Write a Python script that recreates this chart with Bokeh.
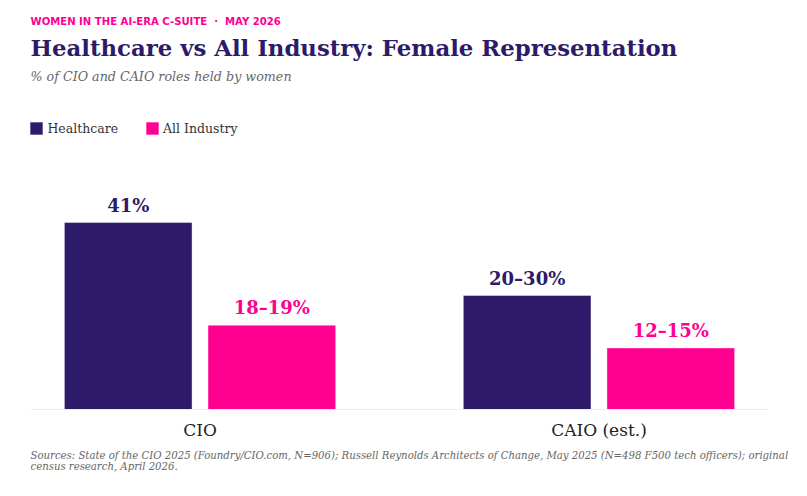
from bokeh.plotting import figure
from bokeh.models import (ColumnDataSource, Range1d, FixedTicker, Title, Legend, LegendItem)
from bokeh.transform import dodge
from bokeh.core.properties import value
from bokeh.embed import file_html
from bokeh.resources import INLINE

categories = ["CIO", "CAIO (est.)"]
healthcare_vals = [41, 25]
industry_vals = [18.5, 13.5]
healthcare_labels = ["41%", "20\u201330%"]
industry_labels = ["18\u201319%", "12\u201315%"]

PURPLE = "#2D1B69"
PINK = "#FF0090"
SERIF = "DejaVu Serif"

xs = list(range(len(categories)))
src = ColumnDataSource(dict(x=xs, hc=healthcare_vals, ind=industry_vals,
                            hcl=healthcare_labels, indl=industry_labels))

p = figure(width=798, height=486, output_backend="svg", toolbar_location=None,
           x_range=Range1d(-0.425, 1.425), y_range=Range1d(0, 70.4),
           min_border_left=30, min_border_right=30, min_border_top=88,
           min_border_bottom=77, tools="")
p.outline_line_color = None
p.background_fill_color = "white"
p.border_fill_color = "white"
p.xgrid.visible = False
p.ygrid.visible = False
p.yaxis.visible = False

r_hc = p.vbar(x=dodge("x", -0.18, range=p.x_range), top="hc", width=0.32, source=src,
              fill_color=PURPLE, line_color="#FFFFFF", line_alpha=0.4, line_width=1)
r_ind = p.vbar(x=dodge("x", 0.18, range=p.x_range), top="ind", width=0.32, source=src,
               fill_color=PINK, line_color="#FFFFFF", line_alpha=0.4, line_width=1)

p.text(x=dodge("x", -0.18, range=p.x_range), y="hc", text="hcl", source=src,
       text_align="center", text_baseline="bottom", y_offset=-7,
       text_font=value(SERIF), text_font_style="bold", text_font_size="18px",
       text_color=PURPLE)
p.text(x=dodge("x", 0.18, range=p.x_range), y="ind", text="indl", source=src,
       text_align="center", text_baseline="bottom", y_offset=-7,
       text_font=value(SERIF), text_font_style="bold", text_font_size="18px",
       text_color=PINK)

ax = p.xaxis[0]
ax.ticker = FixedTicker(ticks=xs)
ax.major_label_overrides = {i: c for i, c in zip(xs, categories)}
ax.axis_line_color = "#EEEEEE"
ax.major_tick_line_color = None
ax.minor_tick_line_color = None
ax.major_label_text_font = SERIF
ax.major_label_text_font_size = "17px"
ax.major_label_text_color = "#222222"
ax.major_label_standoff = 4

legend = Legend(items=[LegendItem(label="Healthcare", renderers=[r_hc]),
                       LegendItem(label="All Industry", renderers=[r_ind])],
                location=(-1.6, 273), orientation="horizontal", margin=0, padding=0,
                glyph_width=16, glyph_height=16, label_standoff=3, spacing=26,
                border_line_color=None, background_fill_alpha=0,
                label_text_font=SERIF, label_text_font_size="12.5px",
                label_text_color="#333333")
p.add_layout(legend, "center")

p.add_layout(Title(text="% of CIO and CAIO roles held by women", align="left",
                   text_font=SERIF, text_font_size="12.7px", text_font_style="italic",
                   text_color="#666666", standoff=9), "above")
p.add_layout(Title(text="Healthcare vs All Industry: Female Representation", align="left",
                   text_font=SERIF, text_font_size="22.8px", text_font_style="bold",
                   text_color=PURPLE, standoff=3), "above")
p.add_layout(Title(text="WOMEN IN THE AI-ERA C-SUITE\u00a0\u00a0\u00b7\u00a0\u00a0MAY 2026", align="left",
                   text_font="DejaVu Sans", text_font_size="10.1px", text_font_style="bold",
                   text_color=PINK, standoff=9), "above")
p.add_layout(Title(text="Sources: State of the CIO 2025 (Foundry/CIO.com, N=906); Russell Reynolds Architects of Change, May 2025 (N=498 F500 tech officers); original\ncensus research, April 2026.",
                   align="left", text_font=SERIF, text_font_size="10.15px",
                   text_font_style="italic", text_color="#666666", standoff=11,
                   text_line_height=1.0), "below")

open("out.html", "w").write(file_html(p, INLINE))
